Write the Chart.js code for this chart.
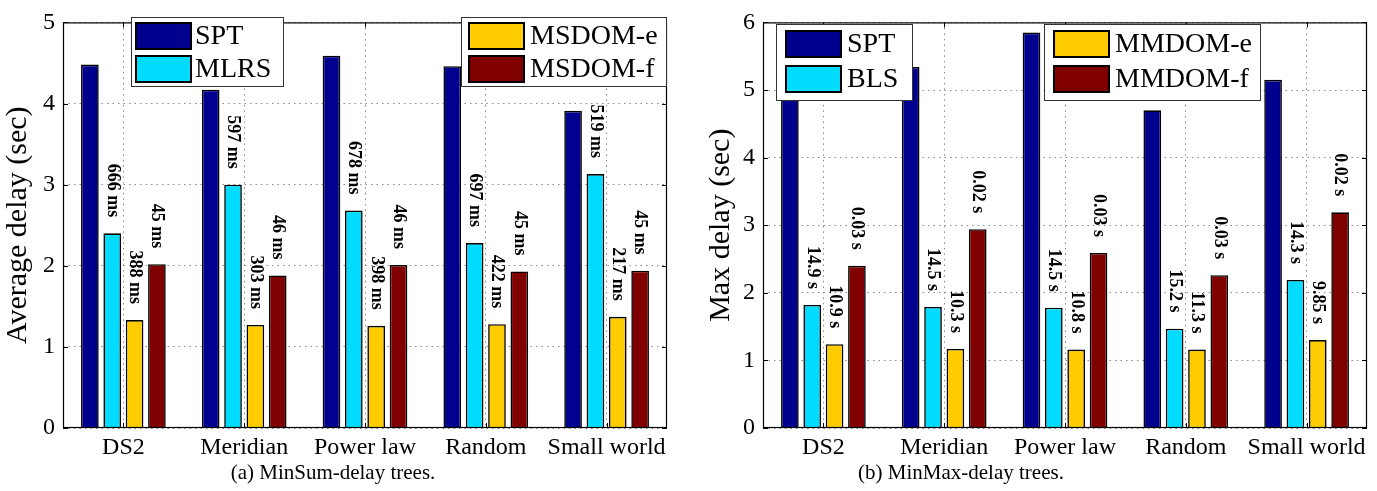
<!DOCTYPE html>
<html><head><meta charset="utf-8">
<script src="https://cdn.jsdelivr.net/npm/chart.js@4"></script>
<style>
html,body{margin:0;padding:0;background:#fff;width:1377px;height:491px;overflow:hidden;position:relative}
canvas{position:absolute;top:0}
.cap{position:absolute;font-family:'Liberation Serif','Times New Roman',serif;font-size:21px;color:#000;white-space:nowrap;transform:translateX(-50%)}
</style></head><body>
<canvas id="c1" width="690" height="491" style="left:0"></canvas>
<canvas id="c2" width="687" height="491" style="left:690px"></canvas>
<div class="cap" style="left:333px;top:460px">(a) MinSum-delay trees.</div>
<div class="cap" style="left:961px;top:460px">(b) MinMax-delay trees.</div>
<script>
const categories = ['DS2', 'Meridian', 'Power law', 'Random', 'Small world'];

// (a) MinSum-delay trees
const sumSeriesNames = ['SPT', 'MLRS', 'MSDOM-e', 'MSDOM-f'];
const sptSum   = [4.48, 4.17, 4.59, 4.46, 3.91];
const mlrs     = [2.40, 3.00, 2.68, 2.28, 3.13];
const msdomE   = [1.33, 1.27, 1.26, 1.28, 1.37];
const msdomF   = [2.02, 1.88, 2.01, 1.93, 1.94];
const mlrsLabels   = ['666 ms', '597 ms', '678 ms', '697 ms', '519 ms'];
const msdomELabels = ['388 ms', '303 ms', '398 ms', '422 ms', '217 ms'];
const msdomFLabels = ['45 ms', '46 ms', '46 ms', '45 ms', '45 ms'];
const sumTicks = [0, 1, 2, 3, 4, 5];

// (b) MinMax-delay trees
const maxSeriesNames = ['SPT', 'BLS', 'MMDOM-e', 'MMDOM-f'];
const sptMax   = [5.09, 5.34, 5.85, 4.70, 5.15];
const bls      = [1.82, 1.79, 1.78, 1.47, 2.19];
const mmdomE   = [1.24, 1.17, 1.16, 1.16, 1.30];
const mmdomF   = [2.40, 2.94, 2.59, 2.26, 3.19];
const blsLabels    = ['14.9 s', '14.5 s', '14.5 s', '15.2 s', '14.3 s'];
const mmdomELabels = ['10.9 s', '10.3 s', '10.8 s', '11.3 s', '9.85 s'];
const mmdomFLabels = ['0.03 s', '0.02 s', '0.03 s', '0.03 s', '0.02 s'];
const maxTicks = [0, 1, 2, 3, 4, 5, 6];

const COLORS = ['#00008f', '#00dcff', '#ffcc00', '#800000'];
const SERIF = "'Liberation Serif','Times New Roman',serif";
Chart.defaults.font.family = SERIF;
Chart.defaults.color = '#000';

const decorPlugin = {
  id: 'decor',
  afterDatasetsDraw(chart) {
    const ctx = chart.ctx;
    chart.data.datasets.forEach((ds, i) => {
      if (!ds.valueLabels) return;
      const meta = chart.getDatasetMeta(i);
      meta.data.forEach((bar, j) => {
        ctx.save();
        ctx.translate(bar.x, bar.y - 16);
        ctx.rotate(Math.PI / 2);
        ctx.font = 'bold 18px ' + SERIF;
        ctx.fillStyle = '#000';
        ctx.textAlign = 'right';
        ctx.textBaseline = 'middle';
        ctx.fillText(ds.valueLabels[j], 0, 0);
        ctx.restore();
      });
    });
  },
  afterDraw(chart) {
    const ctx = chart.ctx;
    const a = chart.chartArea;
    const xs = chart.scales.x, ys = chart.scales.y;
    ctx.save();
    ctx.strokeStyle = '#000';
    ctx.lineWidth = 1.2;
    ctx.strokeRect(a.left + 0.5, a.top + 0.5, a.right - a.left - 1, a.bottom - a.top - 1);
    ctx.beginPath();
    ys.ticks.forEach(t => {
      const y = Math.round(ys.getPixelForValue(t.value)) + 0.5;
      ctx.moveTo(a.left, y); ctx.lineTo(a.left + 5, y);
      ctx.moveTo(a.right, y); ctx.lineTo(a.right - 5, y);
    });
    xs.ticks.forEach((t, i) => {
      const x = Math.round(xs.getPixelForTick(i)) + 0.5;
      ctx.moveTo(x, a.top); ctx.lineTo(x, a.top + 5);
      ctx.moveTo(x, a.bottom); ctx.lineTo(x, a.bottom - 5);
    });
    ctx.lineWidth = 1;
    ctx.stroke();
    const lg = chart.options.plugins.decor.legends;
    lg.forEach(box => {
      ctx.fillStyle = '#fff';
      ctx.fillRect(box.x, box.y, box.w, box.h);
      ctx.strokeStyle = '#333';
      ctx.lineWidth = 1;
      ctx.strokeRect(box.x + 0.5, box.y + 0.5, box.w, box.h);
      box.items.forEach((di, k) => {
        const ds = chart.data.datasets[di];
        const ry = box.rows[k];
        ctx.fillStyle = ds.backgroundColor;
        ctx.fillRect(box.sx, ry, 55, 26);
        ctx.strokeStyle = '#000';
        ctx.lineWidth = 2;
        ctx.strokeRect(box.sx, ry, 55, 26);
        ctx.fillStyle = '#000';
        ctx.font = '28px ' + SERIF;
        ctx.textAlign = 'left';
        ctx.textBaseline = 'middle';
        ctx.fillText(ds.label, box.tx, ry + 14);
      });
    });
    ctx.restore();
  }
};

function makeChart(id, names, series, labels, ticks, ymax, title, pad, yWidth, legends) {
  const datasets = series.map((d, i) => ({
    label: names[i],
    data: d,
    backgroundColor: COLORS[i],
    borderColor: '#000',
    borderWidth: 1.6,
    categoryPercentage: 0.74,
    barPercentage: 0.79,
    valueLabels: labels[i]
  }));
  return new Chart(document.getElementById(id), {
    type: 'bar',
    data: { labels: categories, datasets },
    options: {
      responsive: false,
      animation: false,
      devicePixelRatio: 1,
      layout: { padding: pad },
      plugins: {
        legend: { display: false },
        tooltip: { enabled: false },
        decor: { legends }
      },
      scales: {
        x: {
          grid: { offset: false, color: '#8a8a8a', lineWidth: 1, drawTicks: false },
          border: { display: false, dash: [1.5, 4] },
          ticks: { font: { size: 24 }, padding: 5, maxRotation: 0, autoSkip: false, color: '#000' },
          afterFit: s => { s.height = 40; }
        },
        y: {
          min: 0, max: ymax,
          afterBuildTicks: s => { s.ticks = ticks.map(v => ({ value: v })); },
          grid: { color: '#8a8a8a', lineWidth: 1, drawTicks: false },
          border: { display: false, dash: [1.5, 4] },
          ticks: { font: { size: 24 }, padding: 8, color: '#000' },
          title: { display: true, text: title, font: { size: 30 }, color: '#000', padding: 0 },
          afterFit: s => { s.width = yWidth; }
        }
      }
    },
    plugins: [decorPlugin]
  });
}

makeChart('c1', sumSeriesNames, [sptSum, mlrs, msdomE, msdomF],
  [null, mlrsLabels, msdomELabels, msdomFLabels], sumTicks, 5, 'Average delay (sec)',
  { left: 0, right: 23, top: 17, bottom: 23 }, 63,
  [
    { x: 131, y: 17, w: 152, h: 69, sx: 136, tx: 195, rows: [23, 56], items: [0, 1] },
    { x: 461, y: 17, w: 205, h: 69, sx: 469, tx: 530, rows: [23, 56], items: [2, 3] }
  ]);

makeChart('c2', maxSeriesNames, [sptMax, bls, mmdomE, mmdomF],
  [null, blsLabels, mmdomELabels, mmdomFLabels], maxTicks, 6, 'Max delay (sec)',
  { left: 13, right: 10, top: 17, bottom: 23 }, 60,
  [
    { x: 86, y: 24, w: 136, h: 76, sx: 96, tx: 157, rows: [31, 66], items: [0, 1] },
    { x: 354, y: 24, w: 216, h: 76, sx: 364, tx: 425, rows: [31, 66], items: [2, 3] }
  ]);
</script>
</body></html>
